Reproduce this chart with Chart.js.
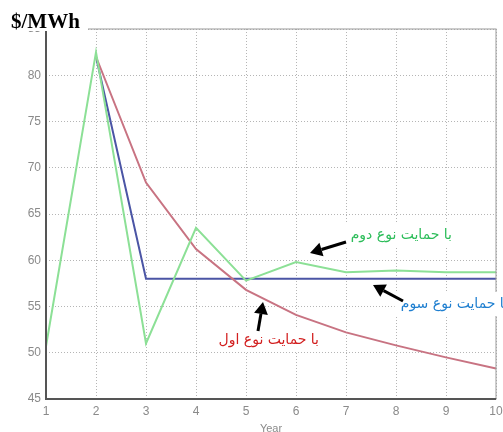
<!DOCTYPE html>
<html>
<head>
<meta charset="utf-8">
<script src="https://cdn.jsdelivr.net/npm/chart.js@4"></script>
<style>
html,body{margin:0;padding:0;background:#fff;}
#wrap{width:503px;height:432px;}
</style>
</head>
<body>
<div id="wrap"><canvas id="c" width="503" height="432"></canvas></div>
<script>
const years = ['1','2','3','4','5','6','7','8','9','10'];
const support1 = [null, 82.0, 68.4, 61.2, 56.8, 54.1, 52.2, 50.8, 49.5, 48.3]; // red
const support2 = [50.7, 82.5, 51.0, 63.5, 57.8, 59.8, 58.7, 58.9, 58.7, 58.7]; // green
const support3 = [null, 82.0, 58.0, 58.0, 58.0, 58.0, 58.0, 58.0, 58.0, 58.0]; // blue
const yTicks = [45, 50, 55, 60, 65, 70, 75, 80, 85];
const unitLabel = '$/MWh';
const xTitle = 'Year';
const label1 = 'با حمایت نوع اول';
const label2 = 'با حمایت نوع دوم';
const label3 = 'با حمایت نوع سوم';

function arrow(ctx, x1, y1, x2, y2) {
  const ang = Math.atan2(y2 - y1, x2 - x1);
  const hl = 12, hw = 7;
  const bx = x2 - hl * Math.cos(ang), by = y2 - hl * Math.sin(ang);
  ctx.save();
  ctx.strokeStyle = '#000';
  ctx.fillStyle = '#000';
  ctx.lineWidth = 3;
  ctx.beginPath();
  ctx.moveTo(x1, y1);
  ctx.lineTo(bx, by);
  ctx.stroke();
  ctx.beginPath();
  ctx.moveTo(x2, y2);
  ctx.lineTo(bx + hw * Math.sin(ang), by - hw * Math.cos(ang));
  ctx.lineTo(bx - hw * Math.sin(ang), by + hw * Math.cos(ang));
  ctx.closePath();
  ctx.fill();
  ctx.restore();
}

function label(ctx, text, x, y, color) {
  ctx.save();
  ctx.font = '14px "DejaVu Sans"';
  ctx.direction = 'rtl';
  ctx.textAlign = 'right';
  ctx.textBaseline = 'middle';
  const w = ctx.measureText(text).width;
  ctx.fillStyle = '#fff';
  ctx.fillRect(x - w - 6, y - 12, w + 12, 24);
  ctx.fillStyle = color;
  ctx.fillText(text, x, y);
  ctx.restore();
}

const annot = {
  id: 'annot',
  afterDraw(chart) {
    const ctx = chart.ctx;
    const ca = chart.chartArea;
    // plot box
    ctx.save();
    ctx.strokeStyle = '#9a9a9a';
    ctx.lineWidth = 1;
    ctx.strokeRect(ca.left, ca.top, ca.right - ca.left, ca.bottom - ca.top);
    ctx.strokeStyle = '#555';
    ctx.lineWidth = 2;
    ctx.beginPath();
    ctx.moveTo(ca.left, ca.top);
    ctx.lineTo(ca.left, ca.bottom);
    ctx.lineTo(ca.right, ca.bottom);
    ctx.stroke();
    ctx.restore();
    // labels
    label(ctx, label2, 452, 235, '#2dbd5a');
    label(ctx, label3, 508, 304, '#1f7fd0');
    label(ctx, label1, 319, 340, '#d21f1f');
    // arrows
    arrow(ctx, 346, 242, 310, 253);
    arrow(ctx, 403, 301, 373, 285);
    arrow(ctx, 258, 331, 263, 302);
    // unit title
    ctx.save();
    ctx.fillStyle = '#fff';
    ctx.fillRect(8, 4, 80, 27);
    ctx.font = 'bold 21px "Liberation Serif"';
    ctx.fillStyle = '#000';
    ctx.textAlign = 'left';
    ctx.textBaseline = 'alphabetic';
    ctx.fillText(unitLabel, 11, 28);
    ctx.restore();
  }
};

new Chart(document.getElementById('c'), {
  type: 'line',
  data: {
    labels: years,
    datasets: [
      { data: support2, borderColor: 'rgb(140,224,150)', borderWidth: 2, pointRadius: 0, tension: 0 },
      { data: support1, borderColor: 'rgb(200,115,130)', borderWidth: 2, pointRadius: 0, tension: 0 },
      { data: support3, borderColor: 'rgb(75,85,165)', borderWidth: 2, pointRadius: 0, tension: 0 }
    ]
  },
  options: {
    responsive: false,
    animation: false,
    events: [],
    layout: { padding: { top: 29, right: 0, left: 0, bottom: 0 } },
    plugins: { legend: { display: false }, tooltip: { enabled: false }, title: { display: false } },
    scales: {
      x: {
        type: 'category',
        offset: false,
        grid: { color: '#b5b5b5', drawTicks: false, lineWidth: 1 },
        border: { display: false, dash: [1, 2] },
        ticks: { color: '#8a8a8a', font: { family: 'Liberation Sans', size: 12 }, padding: 5, maxRotation: 0, autoSkip: false },
        title: { display: true, text: xTitle, color: '#8a8a8a', font: { family: 'Liberation Sans', size: 11 }, padding: { top: 0, bottom: -4 } },
        afterFit(s) { s.height = 33; s.paddingRight = 7; s.paddingLeft = 0; }
      },
      y: {
        min: 45, max: 85,
        afterBuildTicks(s) { s.ticks = yTicks.map(v => ({ value: v })); },
        grid: { color: '#b5b5b5', drawTicks: false, lineWidth: 1 },
        border: { display: false, dash: [1, 2] },
        ticks: { color: '#8a8a8a', font: { family: 'Liberation Sans', size: 12 }, padding: 5 },
        afterFit(s) { s.width = 46; }
      }
    }
  },
  plugins: [annot]
});
</script>
</body>
</html>
